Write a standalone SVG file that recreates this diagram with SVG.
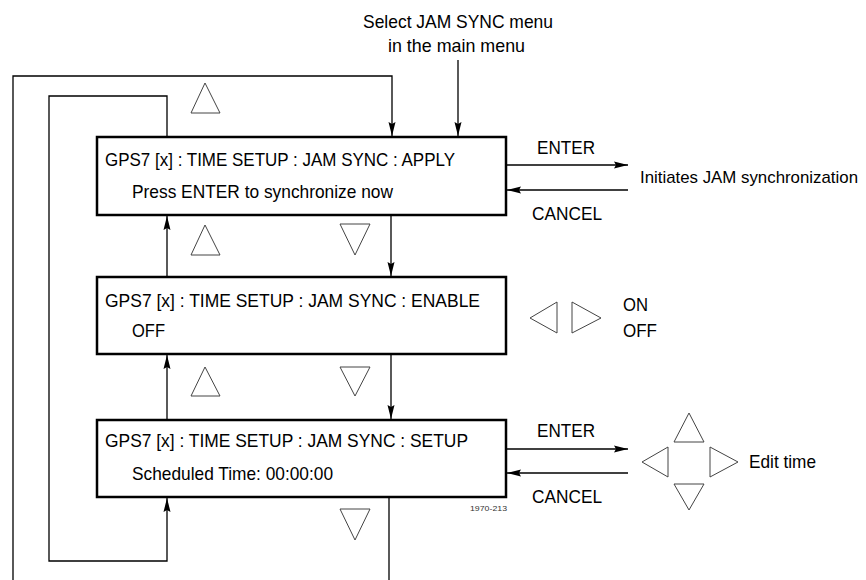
<svg xmlns="http://www.w3.org/2000/svg" width="866" height="580" viewBox="0 0 866 580">
<style>
  .box{fill:#fff;stroke:#000;stroke-width:2.5}
  .ln{fill:none;stroke:#000;stroke-width:1.3}
  .tri{fill:none;stroke:#444;stroke-width:1}
  text{font-family:"Liberation Sans",Arial,sans-serif;font-size:19px;fill:#000}
  .sm{font-size:8px;fill:#333}
  .edge{font-size:17px}
</style>
<defs>
  <marker id="ah" markerUnits="userSpaceOnUse" markerWidth="15" markerHeight="8" refX="14" refY="4" orient="auto">
    <path d="M0,0.5 L14,4 L0,7.5 L2,4 z" fill="#000"/>
  </marker>
</defs>
<rect width="866" height="580" fill="#fff"/>

<g id="connectors">
  <polyline class="ln" points="13,580 13,76 392,76 392,136" marker-end="url(#ah)"/>
  <line class="ln" x1="458" y1="60" x2="458" y2="136" marker-end="url(#ah)"/>
  <polyline class="ln" points="167,137 167,96 49,96 49,561 167,561 167,498" marker-end="url(#ah)"/>
  <line class="ln" x1="391" y1="215" x2="391" y2="276" marker-end="url(#ah)"/>
  <line class="ln" x1="391" y1="354" x2="391" y2="419" marker-end="url(#ah)"/>
  <line class="ln" x1="389" y1="497" x2="389" y2="580"/>
  <line class="ln" x1="167" y1="277" x2="167" y2="216" marker-end="url(#ah)"/>
  <line class="ln" x1="167" y1="420" x2="167" y2="355" marker-end="url(#ah)"/>
  <line class="ln" x1="506" y1="165" x2="628" y2="165" marker-end="url(#ah)"/>
  <line class="ln" x1="628" y1="190" x2="507" y2="190" marker-end="url(#ah)"/>
  <line class="ln" x1="506" y1="449" x2="628" y2="449" marker-end="url(#ah)"/>
  <line class="ln" x1="628" y1="473" x2="507" y2="473" marker-end="url(#ah)"/>
</g>

<g id="entry">
  <text x="363" y="28" textLength="190" lengthAdjust="spacingAndGlyphs">Select JAM SYNC menu</text>
  <text x="388" y="52" textLength="137" lengthAdjust="spacingAndGlyphs">in the main menu</text>
</g>

<g id="box-apply">
  <rect class="box" x="97" y="137" width="409" height="78"/>
  <text x="105" y="166" textLength="350" lengthAdjust="spacingAndGlyphs">GPS7 [x] : TIME SETUP : JAM SYNC : APPLY</text>
  <text x="132" y="198" textLength="261" lengthAdjust="spacingAndGlyphs">Press ENTER to synchronize now</text>
</g>

<g id="box-enable">
  <rect class="box" x="97" y="277" width="409" height="77"/>
  <text x="105" y="307" textLength="375" lengthAdjust="spacingAndGlyphs">GPS7 [x] : TIME SETUP : JAM SYNC : ENABLE</text>
  <text x="132" y="337" textLength="33" lengthAdjust="spacingAndGlyphs">OFF</text>
</g>

<g id="box-setup">
  <rect class="box" x="97" y="420" width="409" height="77"/>
  <text x="105" y="447" textLength="363" lengthAdjust="spacingAndGlyphs">GPS7 [x] : TIME SETUP : JAM SYNC : SETUP</text>
  <text x="132" y="480" textLength="201" lengthAdjust="spacingAndGlyphs">Scheduled Time: 00:00:00</text>
  <text class="sm" x="470" y="511" textLength="37" lengthAdjust="spacingAndGlyphs">1970-213</text>
</g>

<g id="nav-triangles">
  <polygon class="tri" points="205,83 191,113 220,113"/>
  <polygon class="tri" points="205,225 191,255 220,255"/>
  <polygon class="tri" points="340,224 370,224 355,255"/>
  <polygon class="tri" points="205,367 191,396 220,396"/>
  <polygon class="tri" points="340,367 370,367 355,396"/>
  <polygon class="tri" points="340,509 370,509 355,540"/>
</g>

<g id="apply-actions">
  <text x="537" y="154" textLength="58" lengthAdjust="spacingAndGlyphs">ENTER</text>
  <text x="532" y="220" textLength="70" lengthAdjust="spacingAndGlyphs">CANCEL</text>
  <text class="edge" x="640" y="183" textLength="218" lengthAdjust="spacingAndGlyphs">Initiates JAM synchronization</text>
</g>

<g id="enable-options">
  <polygon class="tri" points="530,318 557,302 557,333"/>
  <polygon class="tri" points="572,302 572,333 601,318"/>
  <text x="623" y="311" textLength="25" lengthAdjust="spacingAndGlyphs">ON</text>
  <text x="623" y="337" textLength="34" lengthAdjust="spacingAndGlyphs">OFF</text>
</g>

<g id="setup-actions">
  <text x="537" y="437" textLength="58" lengthAdjust="spacingAndGlyphs">ENTER</text>
  <text x="532" y="503" textLength="70" lengthAdjust="spacingAndGlyphs">CANCEL</text>
</g>

<g id="edit-time">
  <polygon class="tri" points="689,413 674,442 704,442"/>
  <polygon class="tri" points="642,462 668,447 668,477"/>
  <polygon class="tri" points="710,447 710,477 738,462"/>
  <polygon class="tri" points="674,484 704,484 689,510"/>
  <text x="749" y="468" textLength="67" lengthAdjust="spacingAndGlyphs">Edit time</text>
</g>
</svg>
